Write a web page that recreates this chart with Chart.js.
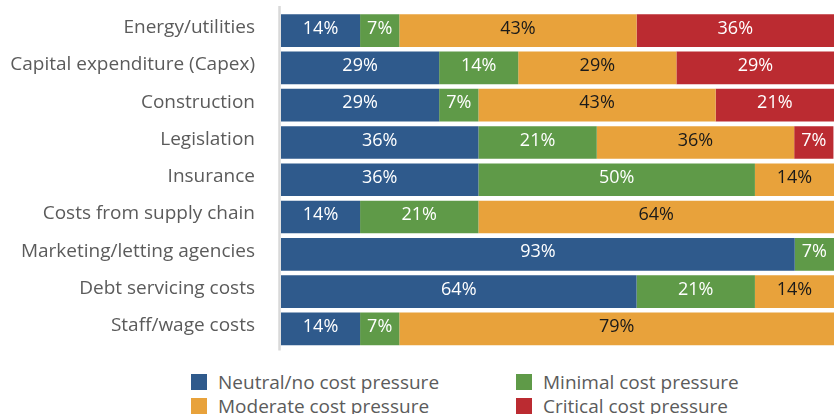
<!DOCTYPE html>
<html>
<head>
<meta charset="utf-8">
<script src="https://cdn.jsdelivr.net/npm/chart.js@4"></script>
<style>
  html, body { margin: 0; padding: 0; background: #fff; }
  body { width: 834px; height: 414px; position: relative; overflow: hidden; font-family: "Open Sans", sans-serif; }
  #wrap { position: absolute; left: 0; top: 0; width: 834px; height: 360px; }
  #legend { position: absolute; left: 191px; top: 374px; width: 620px; display: grid; grid-template-columns: 325px 300px; row-gap: 8px; }
  .item { display: flex; align-items: center; height: 16px; font-size: 19px; color: #5b5b5b; white-space: nowrap; }
  .box { width: 16px; height: 16px; margin-right: 11px; flex: none; }
</style>
</head>
<body>
<div id="wrap"><canvas id="chart"></canvas></div>
<div id="legend"></div>
<script>
// Données
const categories = [
  "Energy/utilities",
  "Capital expenditure (Capex)",
  "Construction",
  "Legislation",
  "Insurance",
  "Costs from supply chain",
  "Marketing/letting agencies",
  "Debt servicing costs",
  "Staff/wage costs"
];
const seriesNames = [
  "Neutral/no cost pressure",
  "Minimal cost pressure",
  "Moderate cost pressure",
  "Critical cost pressure"
];
const neutral  = [14.3, 28.6, 28.6, 35.7, 35.7, 14.3, 92.9, 64.3, 14.3];
const minimal  = [7.1, 14.3, 7.1, 21.4, 50.0, 21.4, 7.1, 21.4, 7.1];
const moderate = [42.9, 28.6, 42.9, 35.7, 14.3, 64.3, 0, 14.3, 78.6];
const critical = [35.7, 28.6, 21.4, 7.1, 0, 0, 0, 0, 0];

const colors = ["#2f5a8c", "#5f9a48", "#e8a23b", "#bb2b31"];
const labelColors = ["#ffffff", "#ffffff", "#1a1a1a", "#ffffff"];

// Étiquettes dans les barres
const barLabels = {
  id: "barLabels",
  afterDatasetsDraw(chart) {
    const ctx = chart.ctx;
    ctx.save();
    ctx.font = "18px 'Open Sans'";
    ctx.textAlign = "center";
    ctx.textBaseline = "middle";
    chart.data.datasets.forEach((ds, i) => {
      const meta = chart.getDatasetMeta(i);
      meta.data.forEach((bar, j) => {
        const v = ds.data[j];
        if (!v) return;
        const p = bar.getProps(["x", "y", "base"], true);
        ctx.fillStyle = labelColors[i];
        ctx.fillText(Math.round(v) + "%", (p.x + p.base) / 2, p.y - 2);
      });
    });
    ctx.restore();
  }
};

// Ligne d'axe grise
const axisLine = {
  id: "axisLine",
  beforeDatasetsDraw(chart) {
    const { ctx, chartArea } = chart;
    ctx.save();
    ctx.strokeStyle = "#d9d9d9";
    ctx.lineWidth = 2.5;
    ctx.beginPath();
    ctx.moveTo(chartArea.left - 1.5, chartArea.top - 6);
    ctx.lineTo(chartArea.left - 1.5, chartArea.bottom + 3);
    ctx.stroke();
    ctx.restore();
  }
};

const datasets = [neutral, minimal, moderate, critical].map((d, i) => ({
  label: seriesNames[i],
  data: d,
  backgroundColor: colors[i],
  borderWidth: 0,
  barPercentage: 1,
  categoryPercentage: 0.877
}));

new Chart(document.getElementById("chart"), {
  type: "bar",
  data: { labels: categories, datasets },
  options: {
    indexAxis: "y",
    responsive: true,
    maintainAspectRatio: false,
    animation: false,
    layout: { padding: { top: 12, bottom: 12.5, left: 0, right: 0 } },
    plugins: { legend: { display: false }, tooltip: { enabled: false } },
    scales: {
      x: { stacked: true, min: 0, max: 100, display: false },
      y: {
        stacked: true,
        grid: { display: false, drawTicks: false },
        border: { display: false },
        ticks: {
          color: "#5b5b5b",
          font: { family: "Open Sans", size: 19 },
          padding: 26,
          labelOffset: -3
        },
        afterFit(scale) {
          scale.width = 281;
          scale.paddingTop = 0;
          scale.paddingBottom = 0;
        }
      }
    }
  },
  plugins: [barLabels, axisLine]
});

// Légende
const legendEl = document.getElementById("legend");
seriesNames.forEach((name, i) => {
  const item = document.createElement("div");
  item.className = "item";
  const box = document.createElement("span");
  box.className = "box";
  box.style.background = colors[i];
  const txt = document.createElement("span");
  txt.textContent = name;
  item.appendChild(box);
  item.appendChild(txt);
  legendEl.appendChild(item);
});
</script>
</body>
</html>
